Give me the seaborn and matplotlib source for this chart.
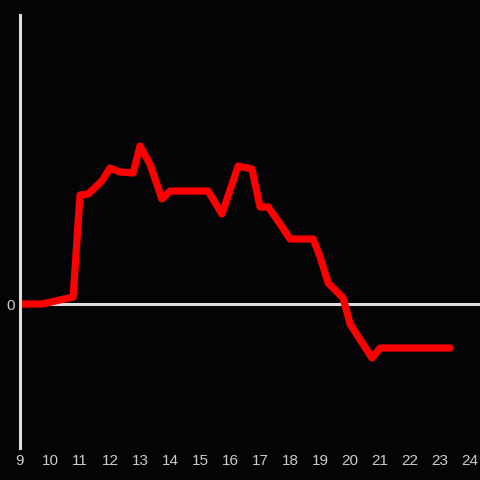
import pandas as pd
import matplotlib
matplotlib.use('Agg')
import matplotlib.pyplot as plt
import seaborn as sns

# values
hours = [9.0, 9.73, 10.77, 11.0, 11.27, 11.73, 12.0, 12.33, 12.77, 13.0, 13.33,
         13.73, 14.0, 15.27, 15.73, 16.27, 16.73, 17.0, 17.27, 17.67, 18.0,
         18.77, 19.0, 19.27, 19.77, 20.0, 20.73, 21.0, 23.33]
values = [0.0, 0.0, 0.7, 10.9, 11.0, 12.3, 13.6, 13.2, 13.1, 15.8, 14.0,
          10.5, 11.3, 11.3, 9.0, 13.8, 13.5, 9.7, 9.7, 8.0, 6.5,
          6.5, 4.7, 2.1, 0.6, -2.0, -5.4, -4.4, -4.4]
xticks = list(range(9, 25))

data = pd.DataFrame({'hour': hours, 'value': values})

sns.set_style('dark')
bg = '#040306'
fig = plt.figure(figsize=(4.8, 4.8), dpi=100, facecolor=bg)
ax = fig.add_axes([20 / 480, 32 / 480, 460 / 480, 433 / 480])
ax.set_facecolor(bg)

ax.axhline(0, color='#dddddd', linewidth=2.2, zorder=1)
sns.lineplot(data=data, x='hour', y='value', color='#ff0000', linewidth=5.2,
             ax=ax, zorder=2)

ax.set_xlim(9, 24.33)
ax.set_ylim(-14.4, 28.9)
ax.set_xticks(xticks)
ax.set_xticklabels([str(t) for t in xticks])
ax.set_yticks([0])
ax.set_yticklabels(['0'])
ax.tick_params(colors='#cccccc', labelsize=11, length=0, pad=4)
ax.tick_params(axis='y', pad=4)
for lab in ax.get_xticklabels() + ax.get_yticklabels():
    lab.set_family(['Liberation Sans', 'DejaVu Sans'])
ax.set_xlabel('')
ax.set_ylabel('')
ax.grid(False)

for side in ['top', 'right', 'bottom']:
    ax.spines[side].set_visible(False)
ax.spines['left'].set_color('#dddddd')
ax.spines['left'].set_linewidth(2.2)

fig.savefig('out.png', dpi=100, facecolor=bg)
